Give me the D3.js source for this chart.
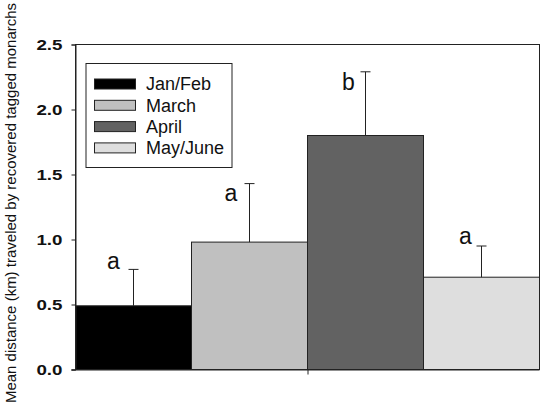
<!DOCTYPE html>
<html>
<head>
<meta charset="utf-8">
<style>
  body { margin: 0; background: #fff; }
  svg { display: block; font-family: "Liberation Sans", Arial, sans-serif; }
</style>
</head>
<body>
<div id="container"></div>
<script src="https://d3js.org/d3.v7.min.js"></script>
<script>
  // data
  const months = ["Jan/Feb", "March", "April", "May/June"];
  const meanDist = [0.49, 0.98, 1.80, 0.71];
  const errUp = [0.28, 0.45, 0.49, 0.24];
  const letters = ["a", "a", "b", "a"];
  const yTicks = [0, 0.5, 1.0, 1.5, 2.0, 2.5];

  const fills = ["#000000", "#c0c0c0", "#626262", "#dedede"];
  // hand placement of the significance letters (px, relative to error cap / bar centre)
  const letterDx = [-20, -18.5, -17, -16];
  const letterDy = [0, 17, 18, -2];

  const W = 550, H = 417;
  const margin = { top: 44.5, right: 10.5, bottom: 47.5, left: 75.5 };
  const width = W - margin.left - margin.right;
  const height = H - margin.top - margin.bottom;

  const svg = d3.select("#container")
    .append("svg")
    .attr("width", W)
    .attr("height", H);

  const g = svg.append("g")
    .attr("transform", `translate(${margin.left},${margin.top})`);

  const x = d3.scaleBand()
    .domain(months)
    .range([0, width])
    .padding(0);

  const y = d3.scaleLinear()
    .domain([0, 2.5])
    .range([height, 0]);

  // frame (top + right)
  g.append("rect")
    .attr("x", 0).attr("y", 0)
    .attr("width", width).attr("height", height)
    .attr("fill", "none")
    .attr("stroke", "#222")
    .attr("stroke-width", 1);

  // bars
  g.selectAll(".bar")
    .data(months)
    .enter()
    .append("rect")
    .attr("class", "bar")
    .attr("x", d => x(d))
    .attr("y", (d, i) => y(meanDist[i]))
    .attr("width", x.bandwidth())
    .attr("height", (d, i) => y(0) - y(meanDist[i]))
    .attr("fill", (d, i) => fills[i])
    .attr("stroke", "#222")
    .attr("stroke-width", 1);

  // error bars (upper only)
  const eb = g.selectAll(".err")
    .data(months)
    .enter()
    .append("g")
    .attr("class", "err")
    .attr("stroke", "#222")
    .attr("stroke-width", 1);

  eb.append("line")
    .attr("x1", d => x(d) + x.bandwidth() / 2)
    .attr("x2", d => x(d) + x.bandwidth() / 2)
    .attr("y1", (d, i) => y(meanDist[i]))
    .attr("y2", (d, i) => y(meanDist[i] + errUp[i]));

  eb.append("line")
    .attr("x1", d => x(d) + x.bandwidth() / 2 - 5)
    .attr("x2", d => x(d) + x.bandwidth() / 2 + 5)
    .attr("y1", (d, i) => y(meanDist[i] + errUp[i]))
    .attr("y2", (d, i) => y(meanDist[i] + errUp[i]));

  // letters
  g.selectAll(".sig")
    .data(months)
    .enter()
    .append("text")
    .attr("class", "sig")
    .attr("x", (d, i) => x(d) + x.bandwidth() / 2 + letterDx[i])
    .attr("y", (d, i) => y(meanDist[i] + errUp[i]) + letterDy[i])
    .attr("text-anchor", "middle")
    .attr("font-size", 23)
    .attr("fill", "#111")
    .text((d, i) => letters[i]);

  // y axis
  const yAxis = g.append("g")
    .call(d3.axisLeft(y).tickValues(yTicks).tickSize(4).tickFormat(d3.format(".1f")));
  yAxis.select(".domain").attr("stroke", "#222");
  yAxis.selectAll(".tick line").attr("stroke", "#222");
  yAxis.selectAll(".tick text")
    .attr("x", 0)
    .attr("dy", "0.36em")
    .attr("text-anchor", "end")
    .attr("transform", "translate(-13,0) scale(1.25,1)")
    .attr("font-size", 15)
    .attr("font-weight", "bold")
    .attr("fill", "#111");

  // x axis: line with a single centre tick
  const xc = d3.scaleLinear().domain([0, months.length]).range([0, width]);
  const xAxis = g.append("g")
    .attr("transform", `translate(0,${height})`)
    .call(d3.axisBottom(xc).tickValues([months.length / 2]).tickSize(5).tickSizeOuter(0).tickFormat(""));
  xAxis.select(".domain").attr("stroke", "#222").attr("d", `M-4,0.5H${width}`);
  xAxis.selectAll(".tick line").attr("stroke", "#222");

  // y axis title
  svg.append("text")
    .attr("transform", `translate(15.5,203) rotate(-90)`)
    .attr("text-anchor", "middle")
    .attr("font-size", 15)
    .attr("fill", "#111")
    .text("Mean distance (km) traveled by recovered tagged monarchs");

  // legend
  const leg = svg.append("g").attr("transform", "translate(86,63.5)");
  leg.append("rect")
    .attr("width", 146).attr("height", 104)
    .attr("fill", "#fff")
    .attr("stroke", "#222")
    .attr("stroke-width", 1);

  const row = leg.selectAll(".row")
    .data(months)
    .enter()
    .append("g")
    .attr("class", "row")
    .attr("transform", (d, i) => `translate(0,${20.5 + i * 21.3})`);

  row.append("rect")
    .attr("x", 8.5).attr("y", -5)
    .attr("width", 41).attr("height", 10)
    .attr("fill", (d, i) => fills[i])
    .attr("stroke", "#222")
    .attr("stroke-width", 1);

  row.append("text")
    .attr("x", 60)
    .attr("dy", "0.35em")
    .attr("font-size", 18)
    .attr("fill", "#111")
    .text(d => d);
</script>
</body>
</html>
